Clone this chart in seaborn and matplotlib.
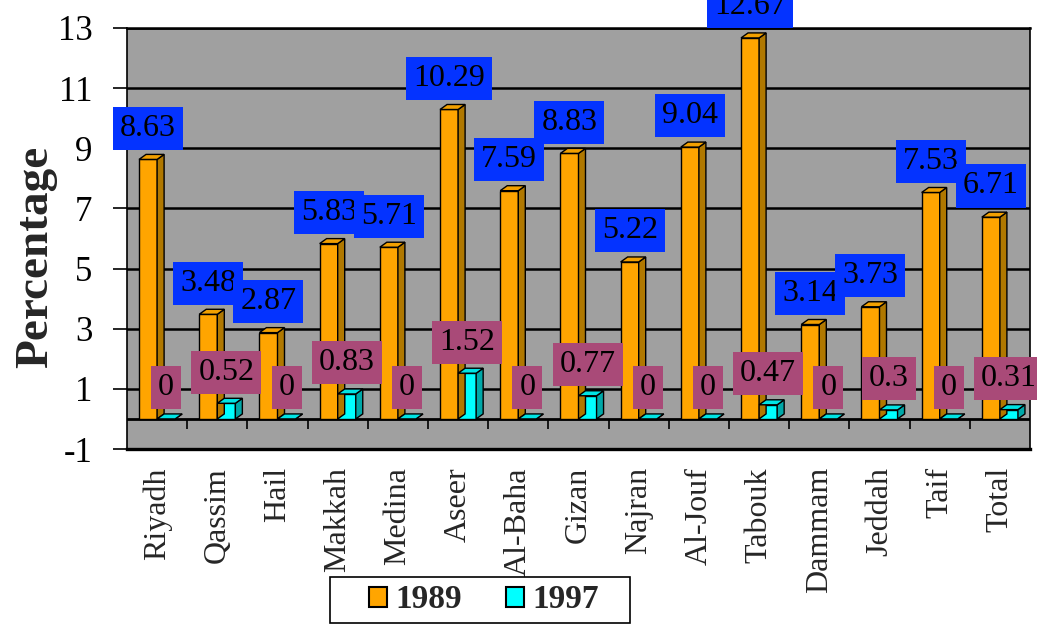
import matplotlib
matplotlib.use("Agg")
import matplotlib.pyplot as plt
from matplotlib.patches import Polygon, Patch, Rectangle
import seaborn as sns
import pandas as pd

# Regional percentages for the two survey years
regions = ["Riyadh", "Qassim", "Hail", "Makkah", "Medina", "Aseer", "Al-Baha",
           "Gizan", "Najran", "Al-Jouf", "Tabouk", "Dammam", "Jeddah", "Taif", "Total"]
values_1989 = [8.63, 3.48, 2.87, 5.83, 5.71, 10.29, 7.59, 8.83, 5.22, 9.04,
               12.67, 3.14, 3.73, 7.53, 6.71]
values_1997 = [0, 0.52, 0, 0.83, 0, 1.52, 0, 0.77, 0, 0, 0.47, 0, 0.3, 0, 0.31]
years = ["1989", "1997"]
yticks = [-1, 1, 3, 5, 7, 9, 11, 13]

df = pd.DataFrame({
    "region": regions * 2,
    "value": values_1989 + values_1997,
    "year": [years[0]] * len(regions) + [years[1]] * len(regions),
})

sns.set_style("white")
plt.rcParams["font.family"] = ["Liberation Serif", "DejaVu Serif"]

W, H, DPI = 1037, 625, 100
fig = plt.figure(figsize=(W / DPI, H / DPI), dpi=DPI)
ax_l, ax_b, ax_w, ax_h = 127, 449, 903, 421  # pixel geometry of the plot area
ax = fig.add_axes([ax_l / W, 1 - ax_b / H, ax_w / W, ax_h / H])

face = {"1989": "#FFA500", "1997": "#00FFFF"}
side = {"1989": "#B07800", "1997": "#00A8A8"}
top = {"1989": "#F2A000", "1997": "#00E4E4"}

sns.barplot(data=df, x="region", y="value", hue="year", hue_order=years,
            palette=face, width=0.6, saturation=1, edgecolor="black",
            linewidth=1, legend=False, ax=ax, zorder=2)

ax.set_facecolor("#A0A0A0")
ax.set_ylim(-1, 13)
ax.set_xlim(-0.5, len(regions) - 0.5)
ax.set_yticks(yticks)
ax.set_yticklabels([str(t) for t in yticks])
ax.set_xlabel("")
ax.set_ylabel("")

# back-wall grid lines
for t in yticks[1:]:
    ax.axhline(t, color="black", lw=1.8, zorder=0.5)
ax.axhline(0, color="black", lw=2, zorder=1.5)

# category separators below the floor line
ax.vlines([i + 0.5 for i in range(len(regions) - 1)], -0.33, 0,
          color="black", lw=1.2, zorder=1.5)

for s in ax.spines.values():
    s.set_color("black")
    s.set_linewidth(1.2)
ax.spines["bottom"].set_linewidth(2.4)
ax.spines["top"].set_linewidth(1.8)

ax.tick_params(axis="y", direction="out", length=10, width=1.2, pad=15,
               labelsize=25, left=True, colors="black")
ax.tick_params(axis="x", length=0, pad=13, labelsize=23, labelrotation=90)

# depth of the bars, in data units
dx = 7 * (len(regions)) / ax_w
dy = 5 * 14 / ax_h

for year, cont in zip(years, ax.containers):
    for bar in cont:
        x0, w, h = bar.get_x(), bar.get_width(), bar.get_height()
        x1 = x0 + w
        ax.add_patch(Polygon([(x1, 0), (x1, h), (x1 + dx, h + dy), (x1 + dx, dy)],
                             closed=True, facecolor=side[year], edgecolor="black",
                             lw=1, zorder=2.1))
        ax.add_patch(Polygon([(x0, h), (x1, h), (x1 + dx, h + dy), (x0 + dx, h + dy)],
                             closed=True, facecolor=top[year], edgecolor="black",
                             lw=1, zorder=2.1))

# value labels
box_col = {"1989": "#0433FF", "1997": "#A94A78"}
for year, cont, vals in zip(years, ax.containers, [values_1989, values_1997]):
    ax.bar_label(cont, labels=[f"{v:g}" for v in vals], padding=12, fontsize=23,
                 color="black", zorder=5,
                 bbox=dict(boxstyle="square,pad=0.22", facecolor=box_col[year],
                           edgecolor="none"))

fig.text(36 / W, 1 - 257 / H, "Percentage", rotation=90, ha="center",
         va="center", fontsize=34, fontweight="bold")

# legend
fig.patches.append(Rectangle((330 / W, 1 - 623 / H), 300 / W, 46 / H,
                             transform=fig.transFigure, facecolor="white",
                             edgecolor="black", lw=1.2, zorder=4))
handles = [Patch(facecolor=face[y], edgecolor="black", lw=1.5) for y in years]
fig.legend(handles, years, loc="center", bbox_to_anchor=(484 / W, 1 - 600 / H),
           ncol=2, frameon=False, borderpad=0, handlelength=0.55,
           handleheight=0.55, handletextpad=0.25, columnspacing=1.3,
           prop={"size": 24, "weight": "bold"})

fig.savefig("out.png", dpi=DPI)
